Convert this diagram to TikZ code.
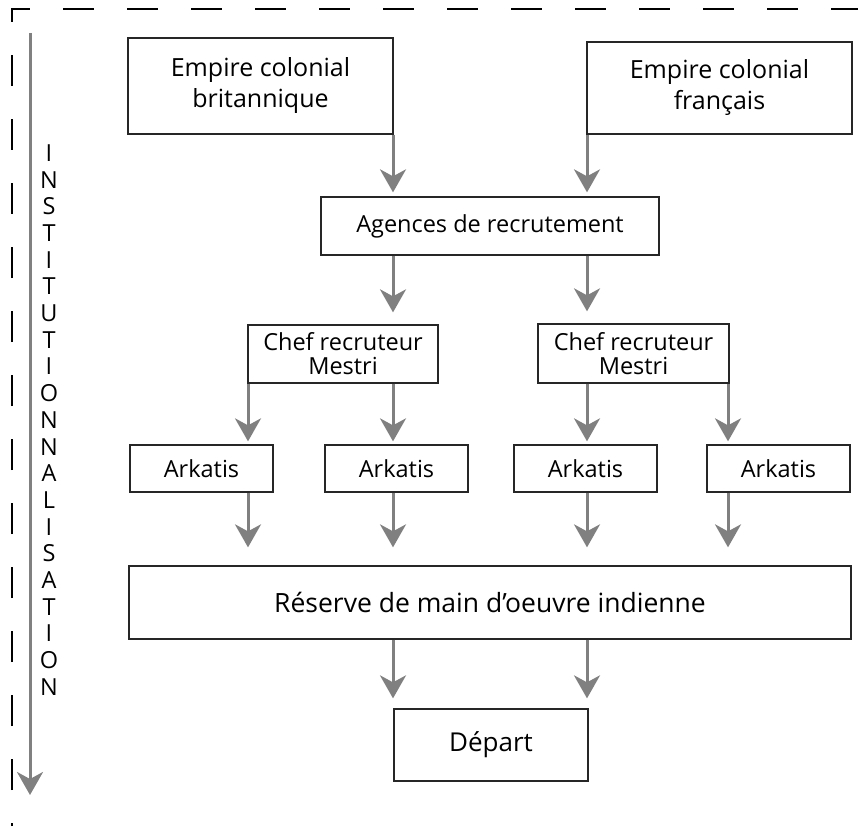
\documentclass[tikz,border=0pt]{standalone}
\usepackage{fontspec}
\setmainfont{Open Sans}
\usetikzlibrary{arrows.meta,positioning}

\tikzset{
  box/.style={draw=black!85,line width=1.3pt,inner sep=0pt,align=center,
              font=\fontsize{23.5}{28}\selectfont},
  flow/.style={draw=black!50,line width=3pt,
               -{Stealth[length=23pt,width=26pt,inset=7pt]}},
  frame/.style={line width=1.3pt,dash pattern=on 31pt off 33pt,dash phase=28pt}
}

\begin{document}
\begin{tikzpicture}[x=1pt,y=-1pt]
      \useasboundingbox (0,0) rectangle (858,826);
      \draw[frame] (12,826) -- (12,9) -- (858,9);
      % axe de gauche
      \coordinate (axtop) at (30,33);
      \coordinate (axbot) at (30,795);
      \draw[flow] (axtop) -- (axbot);
      \node[inner sep=0pt,align=center,font=\fontsize{23.5}{26.7}\selectfont] (inst) at (49,420)
           {I\\N\\S\\T\\I\\T\\U\\T\\I\\O\\N\\N\\A\\L\\I\\S\\A\\T\\I\\O\\N};
      % colonnes des fleches
      \coordinate (colA) at (248,0);
      \coordinate (colB) at (393,0);
      \coordinate (colC) at (587,0);
      \coordinate (colD) at (728,0);
      % boites
      \node[box,minimum width=265,minimum height=96,font=\fontsize{25}{31}\selectfont] (brit) at (260.5,86) {Empire colonial\\britannique};
      \node[box,minimum width=265,minimum height=92,font=\fontsize{25}{31}\selectfont] (fran) at (719.5,88) {Empire colonial\\fran\c{c}ais};
      \node[box,minimum width=338,minimum height=58] (agences) at (490,226) {Agences de recrutement};
      \node[box,minimum width=190,minimum height=58,font=\fontsize{23.5}{24}\selectfont] (chefA) at (343,354) {Chef recruteur\\Mestri};
      \node[box,minimum width=191,minimum height=59,font=\fontsize{23.5}{24}\selectfont] (chefB) at (633.5,353.5) {Chef recruteur\\Mestri};
      \node[box,minimum width=143,minimum height=47] (arkA) at (201.5,468.5) {Arkatis};
      \node[box,minimum width=143,minimum height=47] (arkB) at (396.5,468.5) {Arkatis};
      \node[box,minimum width=143,minimum height=47] (arkC) at (585.5,468.5) {Arkatis};
      \node[box,minimum width=143,minimum height=47] (arkD) at (778.5,468.5) {Arkatis};
      \node[box,minimum width=722,minimum height=73,font=\fontsize{26.5}{30}\selectfont] (reserve) at (490,602.5) {R\'eserve de main d'oeuvre indienne};
      \node[box,minimum width=194,minimum height=72,font=\fontsize{26}{30}\selectfont] (depart) at (491,745) {D\'epart};
      % fleches
      \draw[flow,shorten >=4pt] (brit.south -| colB) -- (agences.north -| colB);
      \draw[flow,shorten >=4pt] (fran.south -| colC) -- (agences.north -| colC);
      \draw[flow,shorten >=12pt] (agences.south -| colB) -- (chefA.north -| colB);
      \draw[flow,shorten >=12pt] (agences.south -| colC) -- (chefB.north -| colC);
      \draw[flow,shorten >=3pt] (chefA.south -| colA) -- (arkA.north -| colA);
      \draw[flow,shorten >=3pt] (chefA.south -| colB) -- (arkB.north -| colB);
      \draw[flow,shorten >=3pt] (chefB.south -| colC) -- (arkC.north -| colC);
      \draw[flow,shorten >=3pt] (chefB.south -| colD) -- (arkD.north -| colD);
      \draw[flow,shorten >=18pt] (arkA.south -| colA) -- (reserve.north -| colA);
      \draw[flow,shorten >=18pt] (arkB.south -| colB) -- (reserve.north -| colB);
      \draw[flow,shorten >=18pt] (arkC.south -| colC) -- (reserve.north -| colC);
      \draw[flow,shorten >=18pt] (arkD.south -| colD) -- (reserve.north -| colD);
      \draw[flow,shorten >=10pt] (reserve.south -| colB) -- (depart.north -| colB);
      \draw[flow,shorten >=10pt] (reserve.south -| colC) -- (depart.north -| colC);
\end{tikzpicture}
\end{document}
